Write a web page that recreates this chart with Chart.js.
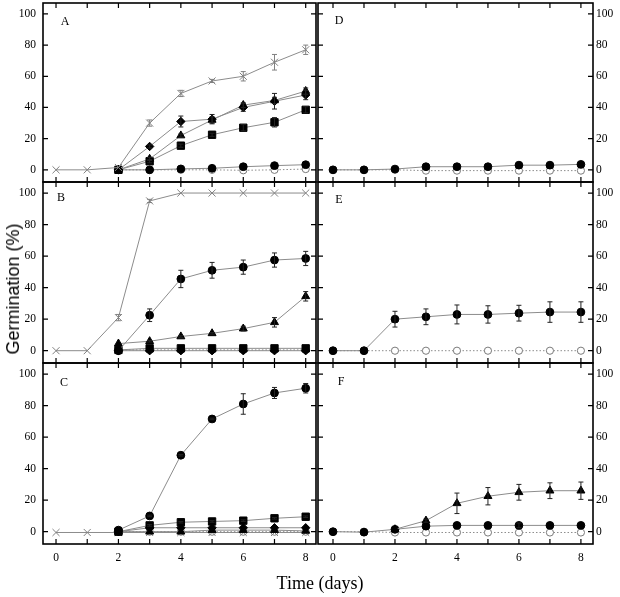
<!DOCTYPE html>
<html><head><meta charset="utf-8">
<script src="https://cdn.jsdelivr.net/npm/chart.js@4/dist/chart.umd.min.js"></script>
<style>
html,body{margin:0;padding:0;background:#fff;}
body{width:620px;height:597px;position:relative;overflow:hidden;}
canvas{position:absolute;}
.t{position:absolute;white-space:nowrap;color:#000;transform:translate(-50%,-50%);line-height:1;}
.serif{font-family:"Liberation Serif","Times New Roman",serif;}
</style></head>
<body>
<canvas id="cA" width="318" height="186" style="left:0;top:0"></canvas>
<canvas id="cB" width="318" height="189" style="left:0;top:178px"></canvas>
<canvas id="cC" width="318" height="238" style="left:0;top:359px"></canvas>
<canvas id="cD" width="320" height="186" style="left:300px;top:0"></canvas>
<canvas id="cE" width="320" height="189" style="left:300px;top:178px"></canvas>
<canvas id="cF" width="320" height="238" style="left:300px;top:359px"></canvas>
<div class="t serif" style="left:65px;top:21px;font-size:12px">A</div>
<div class="t serif" style="left:61px;top:197px;font-size:12px">B</div>
<div class="t serif" style="left:64px;top:382px;font-size:12px">C</div>
<div class="t serif" style="left:339px;top:20px;font-size:12px">D</div>
<div class="t serif" style="left:339px;top:199px;font-size:12px">E</div>
<div class="t serif" style="left:341px;top:381px;font-size:12px">F</div>
<div class="t" style="left:13px;top:289px;font-size:18px;font-family:'Liberation Sans',Arial,sans-serif;transform:translate(-50%,-50%) rotate(-90deg)">Germination (%)</div>
<div class="t serif" style="left:320px;top:583px;font-size:18px">Time (days)</div>
<script>
// ---- data ----
const days = [0,1,2,3,4,5,6,7,8];
const xTickLabels = [0,2,4,6,8];
const yTickValues = [0,20,40,60,80,100];

// Panel A
const aCross    = [0,0,1.5,30,49,57,60,69,77];
const aCrossErr = [0,0,0,2,2,1,3,5,3];
const aDiamond    = [null,null,0,15,31,32.5,40,44,48];
const aDiamondErr = [0,0,0,1,3.5,3,2.5,5,3];
const aTriangle    = [null,null,0,7,22,32,41.5,44.5,50.5];
const aTriangleErr = [0,0,0,1,1,2,1.5,2,2];
const aSquare    = [null,null,0,5.5,15.5,22.5,27,30.5,38.5];
const aSquareErr = [0,0,0,1,1,1,2,3,2];
const aFilled = [null,null,0,0,0.6,1,2,2.7,3.3];
const aOpen   = [null,null,0,0,0,0,-0.3,0,0.5];

// Panel B
const bCross    = [0,0,21,95,100,100,100,100,100];
const bCrossErr = [0,0,2,1,0,0,0,0,0];
const bFilled    = [null,null,0,22.5,45.5,51,53,57.5,58.5];
const bFilledErr = [0,0,0,4,5.5,5,4.5,4.5,4.5];
const bTriangle    = [null,null,4.5,6,9,11,14,18,34.5];
const bTriangleErr = [0,0,0,0.5,0.5,0.5,1.5,3,3];
const bSquare  = [null,null,0.5,1.5,1.5,1.5,1.5,1.5,1.5];
const bDiamond = [null,null,0,0,0,0,0,0,0];
const bOpen    = [null,null,0.5,0.5,0.5,0.5,0.5,0.5,0.5];

// Panel C
const cFilled    = [null,null,1,10,48.5,71.5,81,88,91];
const cFilledErr = [0,0,0,0.5,0.5,0.5,6.5,3.5,3];
const cSquare    = [null,null,0,4,6,6.5,7,8.5,9.5];
const cSquareErr = [0,0,0,0.5,0.5,0.5,0.5,0.5,0.5];
const cDiamond   = [null,null,0,2.5,2.5,2.5,2.5,2.5,2.5];
const cTriangle  = [null,null,0,0,0,1,1,1,0.5];
const cCross     = [-0.5,-0.5,-0.5,-0.5,-0.5,-0.5,-0.5,-0.5,-0.5];
const cOpen      = [null,null,0,0,0,0,0,0,0];

// Panel D
const dFilled = [0,0,0.5,2,2,2,3,3,3.5];
const dOpen   = [0,0,0,-0.5,-0.5,-0.5,-0.5,-0.5,-0.5];

// Panel E
const eFilled    = [0,0,20,21.5,23,23,23.8,24.5,24.5];
const eFilledErr = [0,0,5,5,6,5.5,5,6.5,6.5];
const eOpen      = [0,0,0,0,0,0,0,0,0];

// Panel F
const fTriangle    = [null,null,1.5,7,18,22.5,25,26,26];
const fTriangleErr = [0,0,0,1,6.5,5.5,5,5,5.5];
const fFilled      = [0,-0.3,1.5,3.5,4,4,4,4,4];
const fFilledErr   = [0,0,0,0,0,0,1.5,0,0];
const fOpen        = [0,0,-0.5,-0.5,-0.5,-0.5,-0.5,-0.5,-0.5];

// ---- styles ----
const LINE = '#8c8c8c';
const STY = {
  cross:  {pointStyle:'crossRot', pointRadius:5, pointBorderColor:'#808080', pointBackgroundColor:'#808080', pointBorderWidth:1, err:'#808080'},
  open:   {pointStyle:'circle', pointRadius:3.6, pointBorderColor:'#7a7a7a', pointBackgroundColor:'#fff', pointBorderWidth:1, borderDash:[1.5,2], err:'#7a7a7a'},
  filled: {pointStyle:'circle', pointRadius:3.9, pointBorderColor:'#000', pointBackgroundColor:'#000', pointBorderWidth:1, err:'#222'},
  square: {pointStyle:'rect', pointRadius:5.2, pointBorderColor:'#000', pointBackgroundColor:'#000', pointBorderWidth:1, err:'#222'},
  tri:    {pointStyle:'triangle', pointRadius:4.6, pointBorderColor:'#000', pointBackgroundColor:'#000', pointBorderWidth:1, err:'#222'},
  dia:    {pointStyle:'rectRot', pointRadius:4.2, pointBorderColor:'#000', pointBackgroundColor:'#000', pointBorderWidth:1, err:'#222'}
};
function ds(values, kind, errs){
  const s = STY[kind];
  return Object.assign({
    data: days.map((d,i)=>({x:d, y:values[i]})),
    borderColor: LINE, borderWidth: 1, tension: 0, fill: false,
    pointHoverRadius: s.pointRadius, errors: errs || null, errColor: s.err
  }, s);
}

const errorBars = {
  id:'errorBars',
  afterDatasetsDraw(chart){
    const ctx = chart.ctx, ys = chart.scales.y;
    chart.data.datasets.forEach((d,i)=>{
      if(!d.errors) return;
      const meta = chart.getDatasetMeta(i);
      ctx.save(); ctx.strokeStyle = d.errColor; ctx.lineWidth = 1;
      meta.data.forEach((p,j)=>{
        const e = d.errors[j], v = d.data[j].y;
        if(!e || v===null) return;
        const yt = ys.getPixelForValue(v+e), yb = ys.getPixelForValue(v-e);
        ctx.beginPath();
        ctx.moveTo(p.x, yt); ctx.lineTo(p.x, yb);
        ctx.moveTo(p.x-2.5, yt); ctx.lineTo(p.x+2.5, yt);
        ctx.moveTo(p.x-2.5, yb); ctx.lineTo(p.x+2.5, yb);
        ctx.stroke();
      });
      ctx.restore();
    });
  }
};
const frame = {
  id:'frame',
  afterDraw(chart){
    const ctx = chart.ctx, a = chart.chartArea, xs = chart.scales.x, ys = chart.scales.y;
    ctx.save(); ctx.strokeStyle = '#000'; ctx.lineWidth = 1.6;
    ctx.strokeRect(a.left, a.top, a.right-a.left, a.bottom-a.top);
    ctx.lineWidth = 1.2; ctx.beginPath();
    days.forEach(d=>{
      const x = xs.getPixelForValue(d);
      ctx.moveTo(x, a.top); ctx.lineTo(x, a.top+5);
      ctx.moveTo(x, a.bottom); ctx.lineTo(x, a.bottom-5);
    });
    yTickValues.forEach(v=>{
      const y = ys.getPixelForValue(v);
      ctx.moveTo(a.left, y); ctx.lineTo(a.left+5, y);
      ctx.moveTo(a.right, y); ctx.lineTo(a.right-5, y);
    });
    ctx.stroke(); ctx.restore();
  }
};

function panel(id, datasets, side, bottom, padTop, padBottom){
  const tickFont = {family:'"Liberation Serif","Times New Roman",serif', size:11.5};
  const left = side === 'left';
  new Chart(document.getElementById(id), {
    type:'line',
    data:{datasets},
    options:{
      responsive:false, maintainAspectRatio:false, animation:false, devicePixelRatio:1,
      layout:{autoPadding:false, padding:{left:left?0:18, right:left?2:0, top:padTop, bottom:padBottom}},
      plugins:{legend:{display:false}, tooltip:{enabled:false}},
      events:[],
      scales:{
        x:{type:'linear', min: left?-0.417:-0.484, max: left?8.33:8.39, display: bottom,
           grid:{display:false, drawTicks:false}, border:{display:false},
           afterBuildTicks: s=>{ s.ticks = xTickLabels.map(v=>({value:v})); },
           afterFit: s=>{ s.height = bottom ? 25 : 0; s.paddingLeft = 0; s.paddingRight = 0; },
           ticks:{padding:7, font:tickFont, color:'#000', maxRotation:0, autoSkip:false}},
        y:{type:'linear', position: side, min:-7.8, max:107,
           grid:{display:false, drawTicks:false}, border:{display:false},
           afterBuildTicks: s=>{ s.ticks = yTickValues.map(v=>({value:v})); },
           afterFit: s=>{ s.width = left?43:27; s.paddingTop = 0; s.paddingBottom = 0; },
           ticks:{padding: left?7:3, font:tickFont, color:'#000', autoSkip:false}}
      }
    },
    plugins:[errorBars, frame]
  });
}

panel('cA', [
  ds(aCross,'cross',aCrossErr), ds(aDiamond,'dia',aDiamondErr), ds(aTriangle,'tri',aTriangleErr),
  ds(aSquare,'square',aSquareErr), ds(aFilled,'filled'), ds(aOpen,'open')
], 'left', false, 3, 4);
panel('cB', [
  ds(bCross,'cross',bCrossErr), ds(bFilled,'filled',bFilledErr), ds(bTriangle,'tri',bTriangleErr),
  ds(bSquare,'square'), ds(bDiamond,'dia'), ds(bOpen,'open')
], 'left', false, 4, 4);
panel('cC', [
  ds(cFilled,'filled',cFilledErr), ds(cSquare,'square',cSquareErr), ds(cDiamond,'dia'),
  ds(cTriangle,'tri'), ds(cCross,'cross'), ds(cOpen,'open')
], 'left', true, 4, 28);
panel('cD', [ ds(dFilled,'filled'), ds(dOpen,'open') ], 'right', false, 3, 4);
panel('cE', [ ds(eFilled,'filled',eFilledErr), ds(eOpen,'open') ], 'right', false, 4, 4);
panel('cF', [ ds(fTriangle,'tri',fTriangleErr), ds(fFilled,'filled',fFilledErr), ds(fOpen,'open') ], 'right', true, 4, 28);
</script>
</body></html>
